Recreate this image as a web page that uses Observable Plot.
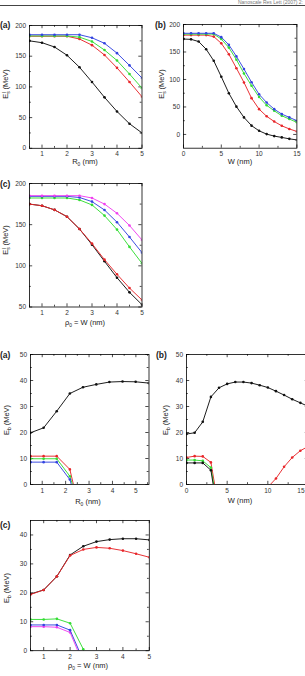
<!DOCTYPE html>
<html><head><meta charset="utf-8">
<script src="https://cdn.jsdelivr.net/npm/d3@7"></script>
<script src="https://cdn.jsdelivr.net/npm/@observablehq/plot@0.6"></script>
<style>
html,body{margin:0;padding:0;background:#fff;}
#page{position:relative;width:305px;height:676px;overflow:hidden;font-family:"Liberation Sans",Arial,sans-serif;color:#222;}
.abs{position:absolute;}
.plab{position:absolute;font-weight:bold;font-size:8.5px;line-height:1;}
.xl{position:absolute;font-size:7.5px;line-height:1;transform:translateX(-50%);white-space:nowrap;}
.yl{position:absolute;font-size:7.5px;line-height:1;white-space:nowrap;transform:translate(-50%,-50%) rotate(-90deg);}
.xl sub,.yl sub{font-size:65%;vertical-align:-0.35em;}
.yl sup{font-size:65%;vertical-align:0.5em;margin-left:-0.35em;}
#hdr{position:absolute;right:2px;top:-0.5px;font-size:5px;line-height:1;color:#777;white-space:nowrap;}
#rule{position:absolute;left:0;top:5px;width:305px;height:1.3px;background:#444;}
</style></head>
<body><div id="page"><div id="hdr">Nanoscale Res Lett (2007) 2:</div><div id="rule"></div></div>
<script>
// ---------- data ----------
const xR = [0.5,1,1.5,2,2.5,3,3.5,4,4.5,5];
const xW = [0,1,2,3,4,5,6,7,8,9,10,11,12,13,14,15];
const xRb = [0.5,1.06,1.62,2.18,2.74,3.31,3.87,4.43,4.99,5.55];

// top (a): E_s^I vs R0
const taBlack = [175,172,165,151.5,132,108,83,60,40,25];
const taRed   = [182.5,182.5,182.5,182.5,178,168,152,131,108,84];
const taGreen = [183,183,183,183,181,174,160,143,121,98];
const taBlue  = [185,185,185,185,185,180,171,155,135,114.5];

// top (b): E_s^I vs W
const tbBlack = [173.5,173,169,155,134,105,75,50.6,31,16,6.6,0.6,-3,-5.4,-8,-10];
const tbRed   = [180.7,180.7,180.7,180.7,178,165.7,146,120.5,94.6,66,46,33,23.5,15.7,10,5.4];
const tbGreen = [182.5,182.5,182.5,182.5,182.5,173.5,158,136,111,88.5,68,53,43,34,28,22];
const tbBlue  = [184,184,184,184,184,177,163,142,119,95,73,58,46,37,31,25];

// top (c): E_s^I vs rho0 = W
const tcBlack   = [175,173,168,159.7,144.7,125.7,105.5,85.6,67.8,52.8];
const tcRed     = [175,173,168,159.7,144.7,127,107.5,89.7,73,58.5];
const tcGreen   = [182.4,182.4,182.4,182.4,180,174,161,144,123,103];
const tcBlue    = [184.4,184.4,184.4,184.4,183,178,167.8,153,135,116];
const tcMagenta = [185.2,185.2,185.2,185.2,185.2,182.4,175,163.8,149,131.4];

// bottom (a): E_b vs R0
const baBlack = [19.9,21.8,28.2,35,37.4,38.5,39.4,39.6,39.5,39];
const baRed   = [10.9,10.9,10.9,5.8,-15.5,null,null,null,null,null];
const baGreen = [9.9,9.9,9.9,3.2,-12.8,null,null,null,null,null];
const baBlue  = [8.6,8.6,8.6,1.9,-15,null,null,null,null,null];

// bottom (b): E_b vs W
const bbBlack  = [19.4,19.9,24.1,33.7,37.2,38.7,39.4,39.4,39,38.2,37.3,35.9,34.4,32.8,31.4,30];
const bbRed    = [10.4,10.9,10.8,8.5,-10,null,null,null,null,null,-1,2.3,6.8,10.4,13,14.7];
const bbGreen  = [9.4,9.4,9.1,6.5,-11.6,null,null,null,null,null,null,null,null,null,null,null];
const bbBlack2 = [8.3,8.3,8.3,5.5,-14,null,null,null,null,null,null,null,null,null,null,null];

// bottom (c): E_b vs rho0 = W
const bcBlack   = [19.6,21,25.7,33.1,36.1,37.7,38.4,38.7,38.7,38.3];
const bcRed     = [19.4,21,25.7,32.9,35,35.7,35.4,34.6,33.5,32.3];
const bcGreen   = [10.8,10.8,11,9.5,0.5,-15,null,null,null,null];
const bcBlue    = [8.9,8.9,8.9,7.1,-3.4,null,null,null,null,null];
const bcMagenta = [8.3,8.3,8.1,6.3,-4.6,null,null,null,null,null];

// ---------- styles ----------
const C = {black:"#111", red:"#e8262a", green:"#33dd33", blue:"#3344e0", magenta:"#f040f0"};

function panel(cfg){
  const ml=24, mr=4, mt=4, mb=14;
  const fw = cfg.x1-cfg.x0, fh = cfg.y1-cfg.y0;
  const marks = [];
  const inX = v => v>=cfg.xd[0]-1e-9 && v<=cfg.xd[1]+1e-9;
  const inY = v => v>=cfg.yd[0]-1e-9 && v<=cfg.yd[1]+1e-9;
  const maj=3.2, min=1.8;
  const tickSet = (vals,len) => {
    const xv = vals.x.filter(inX), yv = vals.y.filter(inY);
    return [
      Plot.tickX(xv,{x:d=>d,insetTop:fh-len,stroke:"#000",strokeWidth:0.7}),
      Plot.tickX(xv,{x:d=>d,insetBottom:fh-len,stroke:"#000",strokeWidth:0.7}),
      Plot.tickY(yv,{y:d=>d,insetRight:fw-len,stroke:"#000",strokeWidth:0.7}),
      Plot.tickY(yv,{y:d=>d,insetLeft:fw-len,stroke:"#000",strokeWidth:0.7})
    ];
  };
  marks.push(...tickSet({x:cfg.xt,y:cfg.yt},maj));
  marks.push(...tickSet({x:cfg.xm,y:cfg.ym},min));
  for (const s of cfg.series){
    const data = s.x.map((x,i)=>({x, y:s.y[i]}));
    marks.push(Plot.line(data,{x:"x",y:"y",stroke:s.c,strokeWidth:0.95,clip:true}));
    marks.push(Plot.dot(data.filter(d=>d.y!=null),{x:"x",y:"y",fill:s.c,r:1.3,clip:true}));
  }
  marks.push(Plot.frame({stroke:"#000",strokeWidth:0.8}));
  const xl = cfg.xt.filter(inX);
  const axOpts = {anchor:"bottom",tickSize:0,tickPadding:3.5,label:null,fontSize:6.5,tickFormat:d=>String(d)};
  if (cfg.endLast) {
    marks.push(Plot.axisX(xl.slice(0,-1),axOpts));
    marks.push(Plot.axisX(xl.slice(-1),{...axOpts,textAnchor:"end",dx:-4}));
  } else {
    marks.push(Plot.axisX(xl,axOpts));
  }
  marks.push(Plot.axisY(cfg.yt.filter(inY),{anchor:"left",tickSize:0,tickPadding:3.5,label:null,fontSize:6.5,tickFormat:d=>String(d)}));
  const svg = Plot.plot({
    width: fw+ml+mr, height: fh+mt+mb,
    marginLeft: ml, marginRight: mr, marginTop: mt, marginBottom: mb,
    x:{domain:cfg.xd, axis:null},
    y:{domain:cfg.yd, axis:null},
    style:{fontFamily:'"Liberation Sans",Arial,sans-serif', background:"transparent", overflow:"visible", color:"#333"},
    marks
  });
  svg.style.position="absolute";
  svg.style.left=(cfg.x0-ml)+"px";
  svg.style.top=(cfg.y0-mt)+"px";
  svg.style.maxWidth="none";
  document.getElementById("page").appendChild(svg);
}

const halfR = [0.5,1.5,2.5,3.5,4.5];
const halfRb = [0.5,1.5,2.5,3.5,4.5,5.5];
const intR = [1,2,3,4,5];

panel({x0:29,x1:141.5,y0:24.5,y1:147.3,xd:[0.5,5],yd:[0,200],
  xt:intR,xm:halfR,yt:[0,50,100,150,200],ym:[25,75,125,175],
  series:[{x:xR,y:taBlack,c:C.black},{x:xR,y:taRed,c:C.red},{x:xR,y:taGreen,c:C.green},{x:xR,y:taBlue,c:C.blue}]});
panel({x0:183.3,x1:296.7,y0:24.3,y1:148,xd:[0,15],yd:[-25,200],
  xt:[0,5,10,15],xm:[2.5,7.5,12.5],yt:[0,50,100,150,200],ym:[25,75,125,175],
  series:[{x:xW,y:tbBlack,c:C.black},{x:xW,y:tbRed,c:C.red},{x:xW,y:tbGreen,c:C.green},{x:xW,y:tbBlue,c:C.blue}]});
panel({x0:29,x1:141.5,y0:182.8,y1:306.3,xd:[0.5,5],yd:[50,200],
  xt:intR,xm:halfR,yt:[50,100,150,200],ym:[75,125,175],
  series:[{x:xR,y:tcBlack,c:C.black},{x:xR,y:tcRed,c:C.red},{x:xR,y:tcGreen,c:C.green},{x:xR,y:tcBlue,c:C.blue},{x:xR,y:tcMagenta,c:C.magenta}]});
panel({x0:29.5,x1:148,y0:354.3,y1:484.3,xd:[0.5,5.56],yd:[0,50],
  xt:intR,xm:halfRb,yt:[0,10,20,30,40,50],ym:[5,15,25,35,45],
  series:[{x:xRb,y:baBlack,c:C.black},{x:xRb,y:baRed,c:C.red},{x:xRb,y:baGreen,c:C.green},{x:xRb,y:baBlue,c:C.blue}]});
panel({x0:186,x1:308,y0:354.3,y1:484.3,xd:[0,15],yd:[0,50],endLast:true,
  xt:[0,5,10,15],xm:[2.5,7.5,12.5],yt:[0,10,20,30,40,50],ym:[5,15,25,35,45],
  series:[{x:xW,y:bbBlack,c:C.black},{x:xW,y:bbRed,c:C.red},{x:xW,y:bbGreen,c:C.green},{x:xW,y:bbBlack2,c:C.black}]});
panel({x0:29.5,x1:148.3,y0:519.8,y1:650,xd:[0.5,5],yd:[0,45],
  xt:intR,xm:halfR,yt:[0,10,20,30,40],ym:[5,15,25,35],
  series:[{x:xR,y:bcBlack,c:C.black},{x:xR,y:bcRed,c:C.red},{x:xR,y:bcMagenta,c:C.magenta},{x:xR,y:bcBlue,c:C.blue},{x:xR,y:bcGreen,c:C.green}]});

// ---------- text ----------
const page = document.getElementById("page");
function add(cls, html, left, top){
  const d=document.createElement("div"); d.className=cls; d.innerHTML=html;
  d.style.left=left+"px"; d.style.top=top+"px"; page.appendChild(d);
}
add("plab","(a)",0,21); add("plab","(b)",155,21); add("plab","(c)",0,180);
add("plab","(a)",0,351); add("plab","(b)",156,351); add("plab","(c)",0,521);
const Es = "E<sub>s</sub><sup>I</sup> (MeV)", Eb = "E<sub>b</sub> (MeV)";
add("yl",Es,7,84); add("yl",Es,163,84); add("yl",Es,7,240);
add("yl",Eb,8,420); add("yl",Eb,167,420); add("yl",Eb,8,588);
add("xl","R<sub>0</sub> (nm)",85,158); add("xl","W (nm)",240,158); add("xl","ρ<sub>0</sub> = W (nm)",85,319);
add("xl","R<sub>0</sub> (nm)",88,498); add("xl","W (nm)",240,497); add("xl","ρ<sub>0</sub> = W (nm)",88,662);
</script></body></html>
